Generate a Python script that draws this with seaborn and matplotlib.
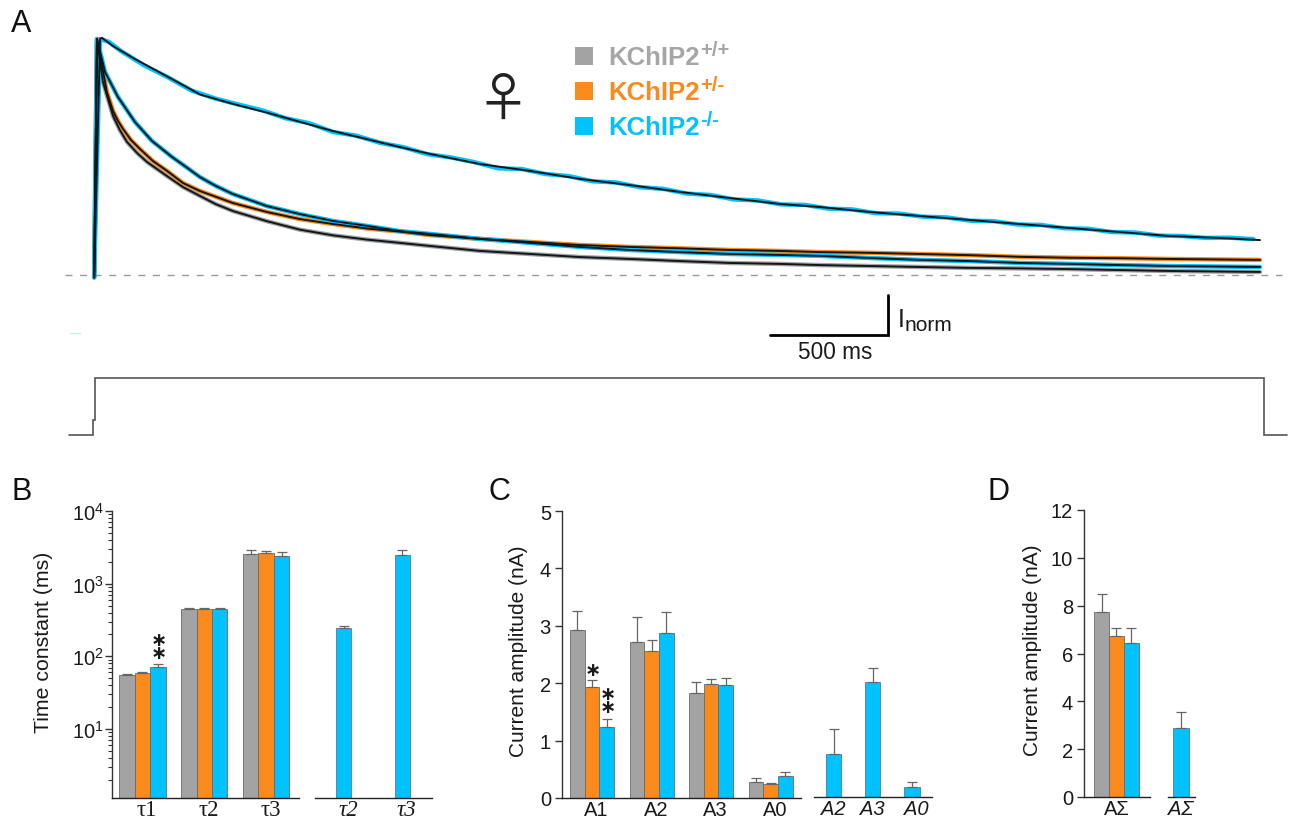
import numpy as np
import pandas as pd
import seaborn as sns
import matplotlib
matplotlib.use("Agg")
import matplotlib.pyplot as plt
from matplotlib.patches import Rectangle
from matplotlib.ticker import LogLocator, LogFormatterMathtext, NullFormatter

W, H = 1290, 820

# colours
gray = "#a3a3a3"
orange = "#fb8a1c"
cyan = "#00c2ff"
genotypes = ["+/+", "+/-", "-/-"]
palette = [gray, orange, cyan]

# panel A, fits of the decay (time in ms, normalised current)
t_ko1 = [-12, 13, 21, 68, 161, 246, 373, 436, 576, 720, 1000, 1284, 1411, 1623, 1835, 2047, 2258, 2470, 2682, 2894,
         3064, 3275, 3487, 3699, 3911, 4123, 4335, 4547, 4758, 4928]
i_ko1 = [-0.01, 1.0, 1.005, 0.970, 0.915, 0.869, 0.800, 0.765, 0.725, 0.688, 0.610, 0.542, 0.513, 0.470, 0.441, 0.407,
         0.381, 0.352, 0.326, 0.301, 0.288, 0.267, 0.250, 0.233, 0.216, 0.199, 0.182, 0.165, 0.157, 0.148]

# recorded trace of the slow cell, read every 100 ms
raw_t = [-12, 13, 50, 100, 200, 300, 400, 500, 600, 700, 800, 900, 1000, 1100, 1200, 1300, 1400, 1500, 1600, 1700,
         1800, 1900, 2000, 2100, 2200, 2300, 2400, 2500, 2600, 2700, 2800, 2900, 3000, 3100, 3200, 3300, 3400, 3500,
         3600, 3700, 3800, 3900, 4000, 4100, 4200, 4300, 4400, 4500, 4600, 4700, 4800, 4900]
raw_i = [-0.01, 1.0, 0.988, 0.950, 0.888, 0.838, 0.782, 0.748, 0.722, 0.698, 0.664, 0.643, 0.606, 0.590, 0.560, 0.541,
         0.512, 0.498, 0.478, 0.452, 0.449, 0.428, 0.419, 0.397, 0.392, 0.372, 0.365, 0.345, 0.339, 0.320, 0.316,
         0.299, 0.297, 0.281, 0.278, 0.262, 0.260, 0.247, 0.244, 0.230, 0.228, 0.214, 0.212, 0.198, 0.196, 0.182,
         0.180, 0.167, 0.165, 0.157, 0.158, 0.152]

t_ko2 = [-12, 0, 34, 89, 161, 233, 318, 377, 436, 504, 576, 720, 860, 1000, 1144, 1284, 1411, 1623, 1835, 2047, 2258,
         2470, 2682, 2894, 3064, 3275, 3487, 3699, 3911, 4123, 4335, 4547, 4928]
i_ko2 = [-0.01, 1.0, 0.860, 0.754, 0.648, 0.568, 0.500, 0.458, 0.415, 0.377, 0.343, 0.292, 0.258, 0.229, 0.208, 0.186,
         0.174, 0.153, 0.136, 0.119, 0.106, 0.097, 0.089, 0.085, 0.081, 0.072, 0.064, 0.059, 0.051, 0.047, 0.042,
         0.038, 0.034]

t_het = [-12, 0, 42, 68, 89, 110, 144, 182, 237, 297, 364, 436, 576, 720, 860, 1000, 1144, 1284, 1411, 1623, 1835,
         2047, 2258, 2470, 2682, 2894, 3064, 3275, 3487, 3699, 3911, 4123, 4335, 4547, 4928]
i_het = [-0.01, 1.0, 0.775, 0.695, 0.653, 0.619, 0.572, 0.534, 0.483, 0.441, 0.390, 0.356, 0.305, 0.267, 0.237, 0.216,
         0.197, 0.184, 0.169, 0.153, 0.140, 0.127, 0.119, 0.113, 0.106, 0.102, 0.097, 0.094, 0.089, 0.084, 0.077,
         0.073, 0.071, 0.068, 0.064]

t_wt = [-12, 0, 25, 68, 97, 127, 170, 212, 297, 364, 436, 504, 576, 720, 860, 1000, 1144, 1284, 1411, 1623, 1835, 2047,
        2258, 2470, 2682, 2894, 3064, 3275, 3487, 3699, 3911, 4123, 4335, 4547, 4928]
i_wt = [-0.01, 1.0, 0.818, 0.674, 0.614, 0.564, 0.517, 0.479, 0.419, 0.373, 0.335, 0.300, 0.271, 0.228, 0.192, 0.168,
        0.150, 0.136, 0.123, 0.102, 0.089, 0.076, 0.068, 0.059, 0.051, 0.047, 0.042, 0.038, 0.034, 0.030, 0.028,
        0.025, 0.021, 0.017, 0.013]

# voltage step under the traces, same axes as the currents
stim_t = [-119, -17, -17, -8, -8, 4945, 4945, 5042]
stim_y = [-0.678, -0.678, -0.614, -0.614, -0.436, -0.436, -0.678, -0.678]

# panel B
tau_names = ["\u03c41", "\u03c42", "\u03c43"]
tau_mean = {"+/+": [55, 447, 2570], "+/-": [59, 452, 2680], "-/-": [70.5, 447, 2440]}
tau_top = {"+/+": [57.5, 466, 2860], "+/-": [61, 466, 2830], "-/-": [78, 460, 2770]}
tau2_names = ["\u03c42", "\u03c43"]
tau2_mean = [244, 2490]
tau2_top = [265, 2890]

# panel C
amp_names = ["A1", "A2", "A3", "A0"]
amp_mean = {"+/+": [2.92, 2.72, 1.83, 0.28], "+/-": [1.94, 2.56, 1.99, 0.24], "-/-": [1.23, 2.87, 1.96, 0.38]}
amp_top = {"+/+": [3.26, 3.15, 2.02, 0.35], "+/-": [2.05, 2.75, 2.08, 0.27], "-/-": [1.38, 3.24, 2.09, 0.45]}
amp2_names = ["A2", "A3", "A0"]
amp2_mean = [0.76, 2.01, 0.18]
amp2_top = [1.19, 2.26, 0.26]

# panel D
sum_names = ["A\u03a3"]
sum_mean = {"+/+": [7.75], "+/-": [6.75], "-/-": [6.45]}
sum_top = {"+/+": [8.47], "+/-": [7.07], "-/-": [7.05]}
sum2_names = ["A\u03a3"]
sum2_mean = [2.88]
sum2_top = [3.55]

sns.set_style("ticks")
plt.rcParams["font.family"] = ["Liberation Sans", "DejaVu Sans"]
plt.rcParams["mathtext.fontset"] = "custom"
plt.rcParams["mathtext.rm"] = "Liberation Sans"
plt.rcParams["axes.linewidth"] = 1.0

fig = plt.figure(figsize=(W / 100, H / 100), dpi=100)


def add_ax(left, right, top, bottom):
    return fig.add_axes([left / W, 1 - bottom / H, (right - left) / W, (bottom - top) / H])


def group_bars(ax, names, means, tops, width, xlim):
    df = pd.DataFrame({
        "name": names * 3,
        "genotype": [g for g in genotypes for _ in names],
        "value": [v for g in genotypes for v in means[g]],
    })
    sns.barplot(data=df, x="name", y="value", hue="genotype", hue_order=genotypes, palette=palette, saturation=1,
                width=width, gap=0, errorbar=None, edgecolor="#6a6a6a", linewidth=0.6, legend=False, ax=ax)
    for cont, g in zip(ax.containers, genotypes):
        add_err(ax, cont, tops[g])
    finish(ax, xlim)


def single_bars(ax, names, means, tops, width, xlim):
    df = pd.DataFrame({"name": names, "value": means})
    sns.barplot(data=df, x="name", y="value", color=cyan, saturation=1, width=width, errorbar=None,
                edgecolor="#4d7f92", linewidth=0.6, ax=ax)
    add_err(ax, ax.containers[0], tops)
    finish(ax, xlim)
    ax.spines["left"].set_visible(False)
    ax.tick_params(axis="y", which="both", left=False, labelleft=False)


def add_err(ax, cont, tops):
    for bar, top in zip(cont, tops):
        h = bar.get_height()
        ax.errorbar(bar.get_x() + bar.get_width() / 2, h, yerr=[[0], [top - h]], color="#666666", elinewidth=0.9,
                    capsize=3.3, capthick=0.9, zorder=1)


def finish(ax, xlim):
    ax.set_xlim(*xlim)
    ax.set_xlabel("")
    ax.set_ylabel("")
    ax.patch.set_visible(False)
    sns.despine(ax=ax)
    ax.spines["left"].set_color("#333333")
    ax.spines["bottom"].set_color("#222222")
    ax.tick_params(axis="x", length=0, pad=1.5, labelsize=14.5, colors="#1a1a1a")
    ax.tick_params(axis="y", length=5, width=1, color="#333333", pad=3, labelsize=14.5, labelcolor="#1a1a1a")


# panel A
ax_a = add_ax(0, W, 0, 460)
ax_a.set_xlim(-97 / 0.236, (W - 97) / 0.236)
ax_a.set_ylim(-184 / 236, 276 / 236)
ax_a.axis("off")
ax_a.plot([-136, 5021], [0, 0], color="#9a9a9a", lw=1, dashes=(5, 5.5))
coloured = [(t_wt, i_wt, gray), (t_het, i_het, orange), (t_ko2, i_ko2, cyan), (raw_t, raw_i, cyan)]
fits = [(t_wt, i_wt), (t_het, i_het), (t_ko2, i_ko2), (t_ko1, i_ko1)]
for tt, ii, col in coloured:
    sns.lineplot(x=tt, y=ii, color=col, lw=3.2, estimator=None, sort=False, ax=ax_a, solid_joinstyle="round")
for tt, ii in fits:
    sns.lineplot(x=tt, y=ii, color="#10161a", lw=1.4, estimator=None, sort=False, ax=ax_a)
ax_a.set_xlabel("")
ax_a.set_ylabel("")
# scale bars
ax_a.plot([2852, 3352, 3352], [-0.254, -0.254, -0.085], color="black", lw=2, solid_joinstyle="miter")
ax_a.plot(stim_t, stim_y, color="#555555", lw=1.2, solid_joinstyle="miter")
ax_a.plot([-115, -72], [-0.246, -0.246], color="#bff0ff", lw=1)

# panel B
ax_b = add_ax(112, 299, 512, 799)
group_bars(ax_b, tau_names, tau_mean, tau_top, 0.75, (-0.49, 2.53))
ax_b2 = add_ax(315, 432, 512, 799)
single_bars(ax_b2, tau2_names, tau2_mean, tau2_top, 0.256, (-0.487, 1.51))
for ax in [ax_b, ax_b2]:
    ax.set_yscale("log")
    ax.set_ylim(1.12, 1e4)
ax_b.yaxis.set_major_locator(LogLocator(base=10, numticks=6))
ax_b.yaxis.set_major_formatter(LogFormatterMathtext())
ax_b.yaxis.set_minor_locator(LogLocator(base=10, subs=np.arange(2, 10), numticks=6))
ax_b.yaxis.set_minor_formatter(NullFormatter())
ax_b.tick_params(axis="y", which="minor", length=3, width=0.8, color="#333333")
ax_b.tick_params(axis="y", which="major", pad=1)
ax_b2.tick_params(axis="y", which="both", left=False, labelleft=False)
ax_b.set_xticks(np.arange(3) + 0.07, tau_names)
ax_b2.set_xticks(np.arange(2) + 0.08, tau2_names)
ax_b.tick_params(axis="x", pad=0.5)
ax_b2.tick_params(axis="x", pad=0.5)
for lab in ax_b.get_xticklabels():
    lab.set_family("Liberation Serif")
    lab.set_fontsize(16.5)
for lab in ax_b2.get_xticklabels():
    lab.set_family("Liberation Serif")
    lab.set_fontsize(16.5)
    lab.set_style("italic")

# panel C
ax_c = add_ax(562, 801, 512, 799)
group_bars(ax_c, amp_names, amp_mean, amp_top, 0.74, (-0.504, 3.51))
ax_c.set_xticks(np.arange(4) + 0.07, amp_names)
ax_c2 = add_ax(814, 932, 512, 798)
single_bars(ax_c2, amp2_names, amp2_mean, amp2_top, 0.39, (-0.497, 2.51))
ax_c2.set_xticks([0, 1, 2.12], amp2_names)
for ax in [ax_c, ax_c2]:
    ax.set_ylim(0, 5)
ax_c.set_yticks([0, 1, 2, 3, 4, 5])
for lab in ax_c2.get_xticklabels():
    lab.set_style("italic")

# panel D
ax_d = add_ax(1084, 1150, 511, 798)
group_bars(ax_d, sum_names, sum_mean, sum_top, 0.75, (-0.549, 0.566))
ax_d2 = add_ax(1168, 1195, 511, 798)
single_bars(ax_d2, sum2_names, sum2_mean, sum2_top, 0.57, (-0.48, 0.52))
for ax in [ax_d, ax_d2]:
    ax.set_ylim(0, 12)
ax_d.set_yticks([0, 2, 4, 6, 8, 10, 12])
for lab in ax_d2.get_xticklabels():
    lab.set_style("italic")

# everything placed by pixel goes on one overlay
ov = fig.add_axes([0, 0, 1, 1])
ov.set_xlim(0, W)
ov.set_ylim(H, 0)
ov.axis("off")
ov.patch.set_visible(False)

for s, x, y in [("A", 11, 32), ("B", 12, 500), ("C", 488, 500), ("D", 988, 500)]:
    ov.text(x, y, s, fontsize=22, color="#111111", va="baseline", ha="left")

ov.text(44, 642, "Time constant (ms)", rotation=90, fontsize=15.3, ha="center", va="center", color="#1a1a1a")
ov.text(519, 651, "Current amplitude (nA)", rotation=90, fontsize=15, ha="center", va="center", color="#1a1a1a")
ov.text(1033, 650, "Current amplitude (nA)", rotation=90, fontsize=15, ha="center", va="center", color="#1a1a1a")

# legend
leg_y = [48, 83, 118]
leg_sup = ["+/+", "+/-", "-/-"]
for y, col, sup in zip(leg_y, palette, leg_sup):
    col_txt = "#a6a6a6" if col == gray else col
    ov.add_patch(Rectangle((575, y), 18, 18, color=col, lw=0))
    ov.text(608, y + 17, "KChIP2", fontsize=18.5, fontweight="bold", color=col_txt, va="baseline")
    ov.text(700, y + 8, sup, fontsize=14.5, fontweight="bold", color=col_txt, va="baseline")

ov.text(503, 100, "\u2640", family=["Noto Sans CJK JP", "DejaVu Sans"], fontsize=38, ha="center", va="center",
        color="#222222")

# scale bar labels
ov.text(835, 353, "500 ms", fontsize=16.3, ha="center", va="center", color="#1a1a1a")
ov.text(898, 327, "I", fontsize=18, va="baseline", color="#1a1a1a")
ov.text(905, 331, "norm", fontsize=15, va="baseline", color="#1a1a1a")

# significance stars, stacked ones share a text
for x, y, s in [(159, 647, "\u2217\n\u2217"), (593, 671, "\u2217"), (608, 701, "\u2217\n\u2217")]:
    ov.text(x, y, s, family=["DejaVu Sans"], fontsize=14, fontweight="bold", ha="center", va="center",
            linespacing=0.65, color="#1a1a1a")

fig.savefig("out.png", dpi=100)
